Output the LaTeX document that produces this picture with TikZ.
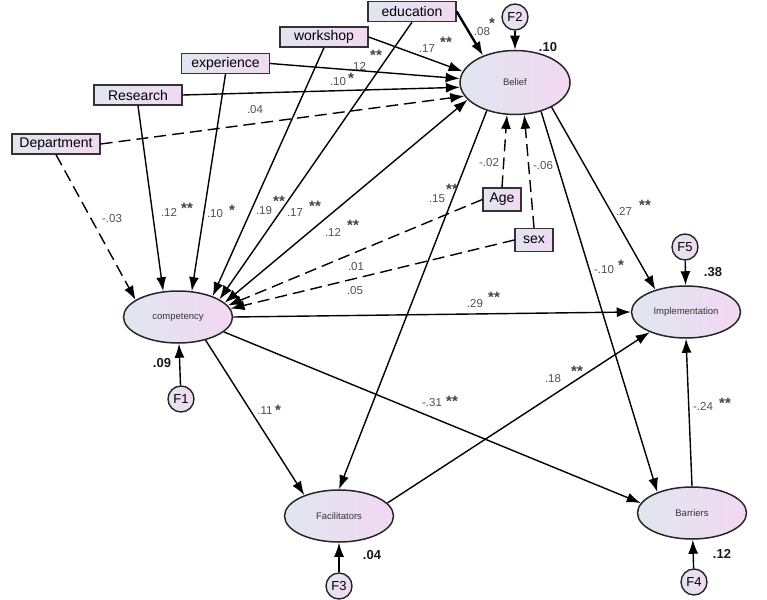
\documentclass[tikz,border=0pt]{standalone}
\usepackage{fontspec}
\setmainfont{Liberation Sans}
\usetikzlibrary{arrows.meta,shapes.geometric}
\definecolor{fillleft}{RGB}{224,230,240}
\definecolor{fillright}{RGB}{242,216,242}
\definecolor{coefgray}{RGB}{80,80,80}
\definecolor{stargray}{RGB}{70,62,78}
\begin{document}
\begin{tikzpicture}[x=1pt,y=-1pt,
	obs/.style={draw=black!80,line width=1.3pt,left color=fillleft,right color=fillright,inner sep=0pt,minimum height=20pt,minimum width=88pt,font=\fontsize{14}{14}\selectfont},
	demo/.style={obs,minimum width=38pt,minimum height=23pt},
	lat/.style={ellipse,draw=black!85,line width=1.5pt,left color=fillleft,right color=fillright,inner sep=0pt,minimum width=109pt,minimum height=52pt,font=\fontsize{9.5}{10}\selectfont,text=black!80},
	err/.style={circle,draw=black!85,line width=1.4pt,left color=fillleft,right color=fillright,inner sep=0pt,minimum size=26pt,font=\fontsize{13}{13}\selectfont},
	coef/.style={font=\fontsize{11.5}{12}\selectfont,text=coefgray,inner sep=0pt},
	sig/.style={font=\bfseries\fontsize{15}{15}\selectfont,text=stargray,inner sep=0pt},
	rsq/.style={font=\bfseries\fontsize{13}{13}\selectfont,text=black!90,inner sep=0pt},
	arr/.style={line width=1.4pt,-{Latex[length=14pt,width=10pt]}},
	darr/.style={arr,dash pattern=on 12pt off 6pt},
	biarr/.style={line width=1.4pt,{Latex[length=14pt,width=10pt]}-{Latex[length=14pt,width=10pt]}}]
	\useasboundingbox (0,0) rectangle (767,599);
	% observed variables
	\node[obs](edu) at (412,11.5){education};
	\node[obs](work) at (324,37){workshop};
	\node[obs](exp) at (225.5,63.5){experience};
	\node[obs](res) at (138,95){Research};
	\node[obs](dep) at (56,144){Department};
	\node[demo](age) at (502,199.5){Age};
	\node[demo](sex) at (534,240){sex};
	% latent variables
	\node[lat,minimum width=110pt,minimum height=64pt](bel) at (515,82.5){Belief};
	\node[lat](comp) at (178,317){competency};
	\node[lat](impl) at (686,312){Implementation};
	\node[lat](fac) at (339,516){Facilitators};
	\node[lat](bar) at (692,513){Barriers};
	% errors
	\node[err](f1) at (181,399){F1};
	\node[err](f2) at (515,17){F2};
	\node[err](f3) at (339,586){F3};
	\node[err](f4) at (694,582){F4};
	\node[err](f5) at (685,247){F5};
	% paths
	\draw[arr,line width=2.4pt] (edu.east)--(bel.140);
	\draw[arr] (work.east)--(bel.168);
	\draw[arr] (exp.east)--(bel.176);
	\draw[arr] (res.east)--(bel.185);
	\draw[darr] (dep.east)--(bel.195);
	\draw[darr] (dep.south)--(comp.158);
	\draw[arr] (res.south)--(comp.120);
	\draw[arr] (exp.south)--(comp.62);
	\draw[arr] (work.south)--(comp.31);
	\draw[arr] (edu.south)--(comp.23);
	\draw[biarr] (bel.200)--(comp.17);
	\draw[darr] (age.west)--(comp.13);
	\draw[darr] (sex.west)--(comp.9);
	\draw[darr] (age.north)--(bel.256);
	\draw[darr] (sex.north)--(bel.286);
	\draw[arr] (bel.225)--(fac.north);
	\draw[arr] (bel.326)--(impl.144);
	\draw[arr] (bel.312)--(bar.149);
	\draw[arr] (comp.east)--(impl.west);
	\draw[arr] (comp.320)--(fac.149);
	\draw[arr] (comp.342)--(bar.169);
	\draw[arr] (fac.15)--(impl.209);
	\draw[arr] (bar.north)--(impl.south);
	\draw[arr] (f1)--(comp);
	\draw[arr] (f2)--(bel);
	\draw[arr] (f3)--(fac);
	\draw[arr] (f4)--(bar);
	\draw[arr] (f5)--(impl);
	% coefficients
	\node[coef](l1) at (482,32){.08};
	\node[sig](s1) at (492,23){*};
	\node[coef](l2) at (427,49){.17};
	\node[sig](s2) at (446,42){**};
	\node[coef](l3) at (358,66){.12};
	\node[sig](s3) at (376,55){**};
	\node[coef](l4) at (338,82){.10};
	\node[sig](s4) at (351,78){*};
	\node[coef](l5) at (255,110){.04};
	\node[coef](l6) at (112,219){-.03};
	\node[coef](l7) at (169,212){.12};
	\node[sig](s7) at (187,208){**};
	\node[coef](l8) at (215,214){.10};
	\node[sig](s8) at (232,210){*};
	\node[coef](l9) at (264,211){.19};
	\node[sig](s9) at (279,201){**};
	\node[coef](l10) at (295,213){.17};
	\node[sig](s10) at (315,206){**};
	\node[coef](l11) at (333,232){.12};
	\node[sig](s11) at (353,225){**};
	\node[coef](l12) at (356,267){.01};
	\node[coef](l13) at (355,291){.05};
	\node[coef](l14) at (489,163){-.02};
	\node[coef](l15) at (543,166){-.06};
	\node[coef](l16) at (437,199){.15};
	\node[sig](s16) at (452,189){**};
	\node[coef](l17) at (624,211){.27};
	\node[sig](s17) at (645,205){**};
	\node[coef](l18) at (604,270){-.10};
	\node[sig](s18) at (621,265){*};
	\node[coef](l19) at (475,304){.29};
	\node[sig](s19) at (494,297){**};
	\node[coef](l20) at (265,411){.11};
	\node[sig](s20) at (278,410){*};
	\node[coef](l21) at (432,403){-.31};
	\node[sig](s21) at (452,401){**};
	\node[coef](l22) at (553,379){.18};
	\node[sig](s22) at (577,371){**};
	\node[coef](l23) at (703,406){-.24};
	\node[sig](s23) at (725,403){**};
	% squared multiple correlations
	\node[rsq](r1) at (548,47){.10};
	\node[rsq](r2) at (713,272){.38};
	\node[rsq](r3) at (162,363){.09};
	\node[rsq](r4) at (372,555){.04};
	\node[rsq](r5) at (722,554){.12};
\end{tikzpicture}
\end{document}
